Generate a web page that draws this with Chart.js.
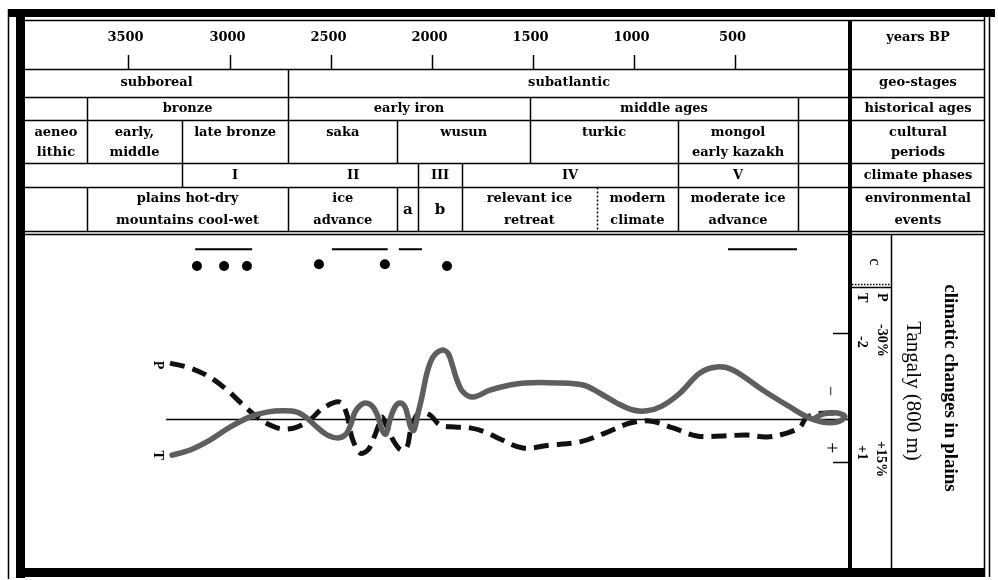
<!DOCTYPE html>
<html>
<head>
<meta charset="utf-8">
<script src="https://cdn.jsdelivr.net/npm/chart.js@4.4.1/dist/chart.umd.min.js"></script>
<style>
html,body{margin:0;padding:0;background:#fff;}
#wrap{width:998px;height:580px;position:relative;}
</style>
</head>
<body>
<div id="wrap"><canvas id="c"></canvas></div>
<script>
// ---------- data (years BP) ----------
const yearTicks = [3500, 3000, 2500, 2000, 1500, 1000, 500];

const geoLabels = [['subboreal'], ['subatlantic']];
const geoBreaks = [2710];

const histLabels = [[''], ['bronze'], ['early iron'], ['middle ages'], ['']];
const histBreaks = [3705, 2710, 1515, 190];

const cultLabels = [['aeneo', 'lithic'], ['early,', 'middle'], ['late bronze'], ['saka'], ['wusun'], ['turkic'], ['mongol', 'early kazakh'], ['']];
const cultBreaks = [3705, 3235, 2710, 2170, 1515, 783, 190];

const phaseLabels = [[''], ['I'], ['II'], ['III'], ['IV'], ['V'], ['']];
const phaseBreaks = [3235, 2710, 2068, 1851, 783, 190];
const phaseUnruled = [2710];

const envLabels = [[''], ['plains hot-dry', 'mountains cool-wet'], ['ice', 'advance'], ['a'], ['b'], ['relevant ice', 'retreat'], ['modern', 'climate'], ['moderate ice', 'advance'], ['']];
const envBreaks = [3705, 2710, 2170, 2068, 1851, 1184, 783, 190];
const envDotted = [1184];

const rowNames = [['years BP'], ['geo-stages'], ['historical ages'], ['cultural', 'periods'], ['climate phases'], ['environmental', 'events']];

// temperature anomaly T (deg C, negative = colder, drawn upward)
const tYears = [3284,3195,3097,2998,2899,2815,2736,2667,2617,2568,2518,2464,2424,2400,2380,2350,2321,2291,2266,2246,2227,2207,2182,2157,2133,2118,2103,2088,2068,2049,2024,1994,1950,1920,1896,1876,1846,1797,1713,1614,1540,1382,1253,1169,1085,1006,937,863,774,675,591,512,363,230,146,72,-2,-42,-6,62,106];
const tValues = [0.84,0.72,0.49,0.19,-0.05,-0.16,-0.19,-0.16,-0.02,0.19,0.37,0.44,0.35,0.12,-0.16,-0.33,-0.37,-0.28,-0.05,0.26,0.35,0.02,-0.28,-0.37,-0.28,-0.05,0.21,0.26,-0.14,-0.51,-1.07,-1.44,-1.60,-1.53,-1.21,-0.91,-0.63,-0.51,-0.67,-0.79,-0.84,-0.84,-0.79,-0.60,-0.37,-0.21,-0.19,-0.30,-0.60,-1.07,-1.21,-1.14,-0.67,-0.28,-0.05,0.07,0.07,-0.05,-0.14,-0.12,-0.02];

// precipitation anomaly P (%)
const pYears = [3294,3195,3097,3012,2933,2864,2800,2736,2667,2602,2538,2454,2419,2405,2385,2355,2316,2291,2266,2246,2222,2192,2153,2123,2108,2088,2059,2009,1960,1886,1812,1737,1663,1550,1416,1268,1144,1021,922,808,690,561,442,344,245,180,151,106,32,-32];
const pValues = [-19.5,-17.8,-14.6,-10.1,-4.9,-0.7,2.1,3.5,2.8,0.3,-3.8,-5.9,-1.4,3.8,8.4,11.9,10.8,7.3,2.8,-0.7,2.8,7.3,10.8,9.8,4.9,0.3,-2.4,-1.4,2.1,2.8,3.1,4.5,7.0,10.1,9.1,8.0,4.9,1.4,0.7,3.1,5.9,5.9,5.6,6.3,4.9,2.8,-0.3,-1.7,-2.1,-1.4];

// event markers (c)
const dotYears = [3161, 3027, 2914, 2558, 2232, 1925];
const dotLevels = [-3.56, -3.56, -3.56, -3.6, -3.6, -3.56];
const barStarts = [3170, 2494, 2163, 536];
const barEnds = [2888, 2218, 2049, 195];
const barLevel = -3.95;

// ---------- datasets ----------
const tData = tYears.map((x, i) => ({x, y: tValues[i]}));
const pData = pYears.map((x, i) => ({x, y: pValues[i]}));
const dotData = dotYears.map((x, i) => ({x, y: dotLevels[i]}));
const barData = [];
barStarts.forEach((s, i) => { barData.push({x: s, y: barLevel}, {x: barEnds[i], y: barLevel}, {x: barEnds[i], y: null}); });

const SERIF = "'DejaVu Serif', serif";
const TIMES = "'Liberation Serif', serif";

function rotText(ctx, txt, x, y, font, align) {
  ctx.save();
  ctx.translate(x, y);
  ctx.rotate(Math.PI / 2);
  ctx.font = font;
  ctx.textAlign = align || 'center';
  ctx.textBaseline = 'middle';
  ctx.fillText(txt, 0, 0);
  ctx.restore();
}

const diagram = {
  id: 'diagram',
  beforeDatasetsDraw(chart) {
    const ctx = chart.ctx, xs = chart.scales.x, yT = chart.scales.yT;
    const y0 = Math.round(yT.getPixelForValue(0)) + 0.5;
    ctx.save();
    ctx.strokeStyle = '#000';
    ctx.lineWidth = 1.5;
    ctx.beginPath();
    ctx.moveTo(xs.getPixelForValue(Math.max(tYears[0], pYears[0])) - 4, y0);
    ctx.lineTo(chart.chartArea.right, y0);
    ctx.stroke();
    ctx.restore();
  },
  afterDraw(chart) {
    const ctx = chart.ctx, xs = chart.scales.x, yT = chart.scales.yT;
    const X = v => xs.getPixelForValue(v);
    const L = 25, R = 984, SEP = 850;
    const rowY = [20.5, 69.5, 97.5, 120.5, 163.5, 187.5, 231.5];
    ctx.save();
    ctx.fillStyle = '#000';
    ctx.strokeStyle = '#000';

    // outer frame
    ctx.fillRect(8, 9, 987, 8);
    ctx.fillRect(16, 9, 9, 569);
    ctx.fillRect(16, 568, 969, 9);
    ctx.lineWidth = 1.5;
    ctx.beginPath();
    ctx.moveTo(8.5, 9); ctx.lineTo(8.5, 579);
    ctx.moveTo(984.5, 17); ctx.lineTo(984.5, 577);
    ctx.moveTo(989.5, 17); ctx.lineTo(989.5, 577);
    ctx.stroke();

    // header horizontal rules
    ctx.lineWidth = 1.5;
    ctx.beginPath();
    rowY.forEach(y => { ctx.moveTo(L, y); ctx.lineTo(R, y); });
    ctx.moveTo(L, 234.5); ctx.lineTo(R, 234.5);
    ctx.stroke();

    // thick separator
    ctx.fillRect(848, 20, 4, 548);

    // years row
    ctx.font = 'bold 13px ' + SERIF;
    ctx.textAlign = 'center';
    ctx.textBaseline = 'middle';
    ctx.lineWidth = 1.5;
    yearTicks.forEach(yr => {
      const x = Math.round(X(yr)) + 0.5;
      ctx.fillText(String(yr), x - 3, 38);
      ctx.beginPath(); ctx.moveTo(x, 55); ctx.lineTo(x, 69); ctx.stroke();
    });

    // period rows
    function row(labels, breaks, top, bot, ys, opts) {
      opts = opts || {};
      const edges = [L, ...breaks.map(X), SEP];
      breaks.forEach(b => {
        if (opts.unruled && opts.unruled.includes(b)) return;
        const x = Math.round(X(b)) + 0.5;
        ctx.save();
        if (opts.dotted && opts.dotted.includes(b)) ctx.setLineDash([2, 2]);
        ctx.lineWidth = 1.5;
        ctx.beginPath(); ctx.moveTo(x, top); ctx.lineTo(x, bot); ctx.stroke();
        ctx.restore();
      });
      labels.forEach((lines, i) => {
        const cx = (edges[i] + edges[i + 1]) / 2;
        if (lines.length === 2) {
          ctx.font = 'bold 13px ' + SERIF;
          ctx.fillText(lines[0], cx, ys[0]);
          ctx.fillText(lines[1], cx, ys[1]);
        } else if (lines[0]) {
          if (opts.single) { ctx.font = opts.singleFont; ctx.fillText(lines[0], cx, opts.single); }
          else { ctx.font = 'bold 13px ' + SERIF; ctx.fillText(lines[0], cx, ys[0]); }
        }
      });
    }
    row(geoLabels, geoBreaks, 69.5, 97.5, [83]);
    row(histLabels, histBreaks, 97.5, 120.5, [109]);
    row(cultLabels, cultBreaks, 120.5, 163.5, [133, 153]);
    row(phaseLabels, phaseBreaks, 163.5, 187.5, [176], {unruled: phaseUnruled});
    row(envLabels, envBreaks, 187.5, 231.5, [199, 221], {dotted: envDotted, single: 210, singleFont: 'bold 15px ' + SERIF});

    // right column names
    const rc = (SEP + R) / 2 + 1;
    const nameY = [[38], [83], [109], [133, 153], [176], [199, 221]];
    ctx.font = 'bold 13px ' + SERIF;
    rowNames.forEach((lines, i) => lines.forEach((t, j) => ctx.fillText(t, rc, nameY[i][j])));

    // right panel of plot
    ctx.lineWidth = 1.5;
    ctx.beginPath(); ctx.moveTo(891.5, 234); ctx.lineTo(891.5, 568); ctx.stroke();
    ctx.save(); ctx.setLineDash([1.5, 1.5]);
    ctx.beginPath(); ctx.moveTo(852, 284.5); ctx.lineTo(891, 284.5); ctx.stroke();
    ctx.restore();
    ctx.beginPath(); ctx.moveTo(852, 287.5); ctx.lineTo(891, 287.5); ctx.stroke();

    rotText(ctx, 'c', 874, 262, '17px ' + TIMES);
    rotText(ctx, 'P', 882, 293, 'bold 14px ' + TIMES, 'left');
    rotText(ctx, '-30%', 882, 324, 'bold 14px ' + TIMES, 'left');
    rotText(ctx, 'T', 862, 293, 'bold 14px ' + TIMES, 'left');
    rotText(ctx, '-2', 862, 336, 'bold 14px ' + TIMES, 'left');
    rotText(ctx, '+15%', 881, 441, 'bold 14px ' + TIMES, 'left');
    rotText(ctx, '+1', 862, 445, 'bold 14px ' + TIMES, 'left');
    rotText(ctx, 'Tangaly (800 m)', 913, 391, '21px ' + TIMES);
    rotText(ctx, 'climatic changes in plains', 950, 388, 'bold 19px ' + TIMES);

    // right value ticks
    [-2, 1].forEach(v => {
      const y = Math.round(yT.getPixelForValue(v)) + 0.5;
      ctx.beginPath(); ctx.moveTo(833, y); ctx.lineTo(850, y); ctx.stroke();
    });
    rotText(ctx, '\u2212', 830, yT.getPixelForValue(-0.65), '18px ' + TIMES);
    rotText(ctx, '+', 830, yT.getPixelForValue(0.67), '20px ' + TIMES);

    // curve labels
    rotText(ctx, 'P', 158, yT.getPixelForValue(tValues[0]) - 90, 'bold 14px ' + TIMES);
    rotText(ctx, 'T', 158, yT.getPixelForValue(tValues[0]), 'bold 14px ' + TIMES);

    ctx.restore();
  }
};

new Chart(document.getElementById('c'), {
  type: 'line',
  data: {
    datasets: [
      {label: 'T', data: tData, yAxisID: 'yT', borderColor: '#5e5e5e', borderWidth: 5.5, tension: 0.35, pointRadius: 0, fill: false, clip: false, borderCapStyle: 'round', borderJoinStyle: 'round'},
      {label: 'P', data: pData, yAxisID: 'yP', borderColor: '#111', borderWidth: 5, borderDash: [15, 8], tension: 0.35, pointRadius: 0, fill: false, clip: false},
      {label: 'dates', data: dotData, yAxisID: 'yT', showLine: false, pointRadius: 5, pointBackgroundColor: '#000', pointBorderColor: '#000', borderWidth: 0},
      {label: 'ranges', data: barData, yAxisID: 'yT', borderColor: '#000', borderWidth: 2, pointRadius: 0, spanGaps: false, tension: 0}
    ]
  },
  options: {
    responsive: true,
    maintainAspectRatio: false,
    animation: false,
    events: [],
    layout: {padding: {left: 25, right: 148, top: 236, bottom: 12}},
    plugins: {legend: {display: false}, tooltip: {enabled: false}},
    scales: {
      x: {type: 'linear', display: false, min: -67, max: 4011, reverse: true},
      yT: {type: 'linear', display: false, reverse: true, min: -4.2558, max: 3.4651},
      yP: {type: 'linear', display: false, reverse: true, min: -63.84, max: 51.98}
    }
  },
  plugins: [diagram]
});
</script>
</body>
</html>
